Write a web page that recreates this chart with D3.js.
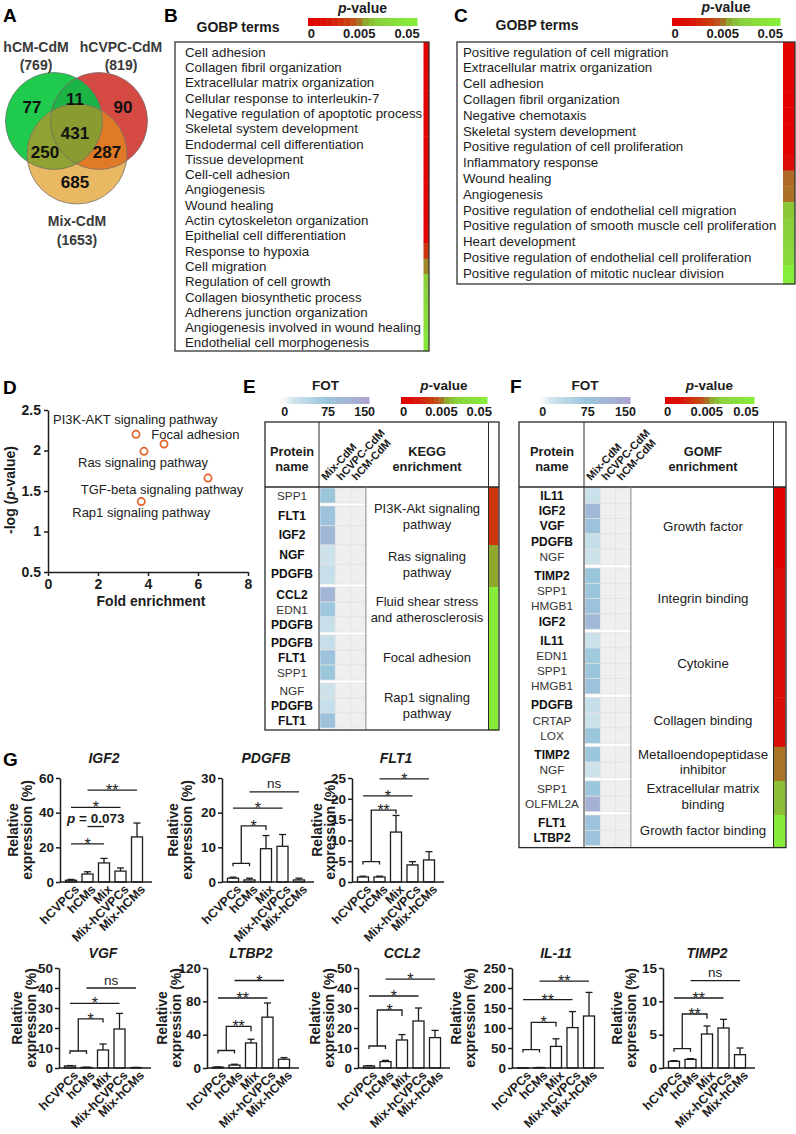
<!DOCTYPE html>
<html><head><meta charset="utf-8">
<script src="https://cdn.jsdelivr.net/npm/d3@7/dist/d3.min.js"></script>
<style>html,body{margin:0;padding:0;background:#fff}svg{display:block}</style>
</head><body>
<svg id="fig" width="796" height="1134" font-family="'Liberation Sans', Arial, Helvetica, sans-serif"></svg>
<script>
// ======================= DATA =======================
// Panel A (Venn)
const vennSetNames = ["hCM-CdM", "hCVPC-CdM", "Mix-CdM"];
const vennSetTotals = [769, 819, 1653];
// CM only, CM∩CVPC, CVPC only, all three, CM∩Mix, CVPC∩Mix, Mix only
const vennRegionCounts = [77, 11, 90, 431, 250, 287, 685];

// Panel B
const gobpTermsB = ["Cell adhesion","Collagen fibril organization","Extracellular matrix organization",
  "Cellular response to interleukin-7","Negative regulation of apoptotic process","Skeletal system development",
  "Endodermal cell differentiation","Tissue development","Cell-cell adhesion","Angiogenesis","Wound healing",
  "Actin cytoskeleton organization","Epithelial cell differentiation","Response to hypoxia","Cell migration",
  "Regulation of cell growth","Collagen biosynthetic process","Adherens junction organization",
  "Angiogenesis involved in wound healing","Endothelial cell morphogenesis"];
const gobpPB = [1e-9,2e-9,5e-9,1e-8,3e-8,8e-8,2e-7,5e-7,1e-6,3e-6,1e-5,4e-5,2e-4,0.0035,0.008,0.022,0.026,0.03,0.036,0.042];

// Panel C
const gobpTermsC = ["Positive regulation of cell migration","Extracellular matrix organization","Cell adhesion",
  "Collagen fibril organization","Negative chemotaxis","Skeletal system development",
  "Positive regulation of cell proliferation","Inflammatory response","Wound healing","Angiogenesis",
  "Positive regulation of endothelial cell migration","Positive regulation of smooth muscle cell proliferation",
  "Heart development","Positive regulation of endothelial cell proliferation","Positive regulation of mitotic nuclear division"];
const gobpPC = [1e-7,2e-7,4e-7,1e-6,3e-6,6e-6,2e-5,0.0012,0.006,0.0065,0.018,0.02,0.024,0.03,0.048];

const pTickLabels = ["0", "0.005", "0.05"];
const fotTicks = [0, 75, 150];

// Panel D
const keggNames = ["PI3K-AKT signaling pathway","Focal adhesion","Ras signaling pathway","TGF-beta signaling pathway","Rap1 signaling pathway"];
const keggFold = [3.52, 4.64, 3.84, 6.4, 3.73];
const keggLogP = [2.2, 2.08, 1.99, 1.66, 1.37];
const dXTicks = [0, 2, 4, 6, 8];
const dYTicks = [0.5, 1, 1.5, 2, 2.5];

// Panel E (KEGG)
const eEnrichLines = [["PI3K-Akt signaling","pathway"],["Ras signaling","pathway"],["Fluid shear stress","and atherosclerosis"],["Focal adhesion"],["Rap1 signaling","pathway"]];
const eGroupP = [0.0035, 0.011, 0.045, 0.045, 0.045];
const eProteins = [["SPP1","FLT1","IGF2"],["NGF","PDGFB"],["CCL2","EDN1","PDGFB"],["PDGFB","FLT1","SPP1"],["NGF","PDGFB","FLT1"]];
const eBold = [[0,1,1],[1,1],[1,0,1],[1,1,0],[0,1,1]];
const eFOT = [[75,82,105],[22,28],[112,72,28],[28,82,75],[22,28,82]];

// Panel F (GOMF)
const fEnrichLines = [["Growth factor"],["Integrin binding"],["Cytokine"],["Collagen binding"],["Metalloendopeptidase","inhibitor"],["Extracellular matrix","binding"],["Growth factor binding"]];
const fGroupP = [0.0001, 0.0012, 0.0013, 0.0015, 0.0068, 0.016, 0.045];
const fProteins = [["IL11","IGF2","VGF","PDGFB","NGF"],["TIMP2","SPP1","HMGB1","IGF2"],["IL11","EDN1","SPP1","HMGB1"],["PDGFB","CRTAP","LOX"],["TIMP2","NGF"],["SPP1","OLFML2A"],["FLT1","LTBP2"]];
const fBold = [[1,1,1,1,0],[1,0,0,1],[1,0,0,0],[1,0,0],[1,0],[0,0],[1,1]];
const fFOT = [[25,105,85,30,22],[75,75,85,105],[25,70,75,85],[30,25,75],[75,22],[75,120],[82,82]];
const tableColNames = ["Mix-CdM","hCVPC-CdM","hCM-CdM"];

// Panel G
const gGroups = ["hCVPCs","hCMs","Mix","Mix-hCVPCs","Mix-hCMs"];
const geneNames = ["IGF2","PDGFB","FLT1","VGF","LTBP2","CCL2","IL-11","TIMP2"];
const igf2Mean = [1.0, 4.6, 11.0, 6.3, 26.0];
const igf2Sem  = [0.5, 1.3, 2.6, 1.8, 8.0];
const pdgfbMean = [1.1, 0.6, 9.6, 10.3, 0.6];
const pdgfbSem  = [0.3, 0.5, 3.8, 3.4, 0.5];
const flt1Mean = [1.2, 1.2, 12.0, 4.1, 5.3];
const flt1Sem  = [0.2, 0.2, 4.0, 0.8, 2.0];
const vgfMean = [1.0, 0.3, 9.0, 19.5, 0.2];
const vgfSem  = [0.2, 0.1, 3.0, 7.8, 0.1];
const ltbp2Mean = [1.0, 3.5, 30.0, 61.0, 10.5];
const ltbp2Sem  = [0.3, 1.0, 4.5, 17.0, 2.0];
const ccl2Mean = [1.0, 3.2, 14.0, 23.5, 15.2];
const ccl2Sem  = [0.2, 0.6, 2.7, 6.5, 3.6];
const il11Mean = [0.4, 1.0, 54, 101, 130];
const il11Sem  = [0.1, 0.3, 19, 40, 59];
const timp2Mean = [1.0, 1.3, 5.1, 6.0, 2.0];
const timp2Sem  = [0.1, 0.1, 1.2, 1.3, 1.0];
const gYMax = [60, 30, 25, 50, 120, 50, 250, 15];
const gYStep = [20, 10, 5, 10, 40, 10, 50, 5];
const igf2Sig = [{a:0,b:2,y:22,s:"*"},{a:1,b:2,y:32,s:"p = 0.073"},{a:0,b:3,y:43,s:"*"},{a:1,b:4,y:53,s:"**"}];
const pdgfbSig = [{a:[0,1],b:2,cap:5.4,y:16.2,drop:15.0,s:"*"},{a:0,b:3,y:21.3,s:"*"},{a:1,b:4,y:26,s:"ns"}];
const flt1Sig = [{a:[0,1],b:2,cap:4.9,y:17.3,drop:16.4,s:"**"},{a:0,b:3,y:20.7,s:"*"},{a:1,b:4,y:24.8,s:"*"}];
const vgfSig = [{a:[0,1],b:2,cap:8.5,y:24.6,drop:22.8,s:"*"},{a:0,b:3,y:32.3,s:"*"},{a:1,b:4,y:40,s:"ns"}];
const ltbp2Sig = [{a:[0,1],b:2,cap:21,y:50,drop:44,s:"**"},{a:0,b:3,y:84,s:"**"},{a:1,b:4,y:105,s:"*"}];
const ccl2Sig = [{a:[0,1],b:2,cap:11,y:29,drop:26,s:"*"},{a:0,b:3,y:36,s:"*"},{a:1,b:4,y:44.4,s:"*"}];
const il11Sig = [{a:[0,1],b:2,cap:46,y:114,drop:104,s:"*"},{a:0,b:3,y:171,s:"**"},{a:1,b:4,y:217,s:"**"}];
const timp2Sig = [{a:[0,1],b:2,cap:2.9,y:8.1,drop:7.4,s:"**"},{a:0,b:3,y:10.5,s:"**"},{a:1,b:4,y:13.1,s:"ns"}];

// ======================= LAYOUT =======================
const letters = [["A",3,22],["B",164,22],["C",454,22],["D",3,394],["E",243,393],["F",510,393],["G",3,766]];
const vennGeom = [[54,121,48.5],[99,121,48.5],[77,154,50]];
const vennLabelPos = [[32,113],[75,105],[123,113],[75,139],[45,158],[107,158],[75,188]];
const vennNamePos = [[36,52,70],[121,52,70],[77,226,245]];
const pTickFrac = [0.03, 0.47, 0.91];
const fotTickFrac = [0.03, 0.53, 0.95];
const dLabelAt = [[0.2,2.385],[4.13,2.2],[1.2,1.85],[1.31,1.52],[0.97,1.24]];

// ======================= DRAW =======================
const svg = d3.select("#fig");
const INK = "#1c1c1c";

function T(g, x, y, s, o = {}) {
  const t = g.append("text").attr("x", x).attr("y", y)
    .attr("font-size", o.fs || 12).attr("font-weight", o.fw || "normal")
    .attr("text-anchor", o.ta || "start").attr("fill", o.fill || INK).text(s);
  if (o.it) t.attr("font-style", "italic");
  if (o.rot != null) t.attr("transform", `rotate(${o.rot},${x},${y})`);
  return t;
}
function pLabel(g, x, y, fs) {
  const t = g.append("text").attr("x", x).attr("y", y).attr("text-anchor", "middle")
    .attr("font-size", fs).attr("font-weight", "bold").attr("fill", INK);
  t.append("tspan").attr("font-style", "italic").text("p");
  t.append("tspan").text("-value");
}
const pColor = d3.scaleLinear()
  .domain([0, 0.002, 0.004, 0.005, 0.007, 0.01, 0.02, 0.05])
  .range(["#e30000","#d8140a","#c9400f","#bb5c26","#a67826","#8fa22e","#8ad03c","#86f03a"]).clamp(true);
const pPos = d3.scaleLinear().domain([0, 0.005, 0.05]).range([0, 0.45, 1]);
const FOT = d3.scaleLinear().domain([0, 20, 75, 150]).range(["#ffffff","#cfe3ec","#9ac6dc","#aba3d0"]).clamp(true);

function pBar(g, x, y, w, h, tickY) {
  const n = 18;
  d3.range(n).forEach(i => {
    g.append("rect").attr("x", x + i * w / n).attr("y", y).attr("width", w / n + 0.5).attr("height", h)
      .attr("fill", pColor(pPos.invert((i + 0.5) / n)));
  });
  pTickLabels.forEach((s, i) => T(g, x + pTickFrac[i] * w, tickY, s, {fs: 13, fw: "bold", ta: "middle"}));
}
function fotBar(g, x, y, w, h, tickY) {
  const n = 40;
  d3.range(n).forEach(i => {
    g.append("rect").attr("x", x + i * w / n).attr("y", y).attr("width", w / n + 0.5).attr("height", h)
      .attr("fill", FOT((i + 0.5) / n * 150));
  });
  fotTicks.forEach((v, i) => T(g, x + fotTickFrac[i] * w, tickY, String(v), {fs: 12.5, fw: "bold", ta: "middle"}));
}
function styleAxis(sel, fs) {
  sel.attr("font-family", null).attr("font-size", fs).attr("font-weight", "bold");
  sel.select(".domain").attr("stroke", INK).attr("stroke-width", 1.5);
  sel.selectAll(".tick line").attr("stroke", INK).attr("stroke-width", 1.5);
  sel.selectAll(".tick text").attr("fill", INK);
}

// letters
letters.forEach(([s, x, y]) => T(svg, x, y, s, {fs: 19, fw: "bold", fill: "#000"}));

// ---------- Panel A ----------
(function () {
  const g = svg.append("g");
  const defs = svg.append("defs");
  vennGeom.forEach((c, i) => defs.append("clipPath").attr("id", "vc" + i)
    .append("circle").attr("cx", c[0]).attr("cy", c[1]).attr("r", c[2]));
  const circ = (par, i) => par.append("circle").attr("cx", vennGeom[i][0]).attr("cy", vennGeom[i][1]).attr("r", vennGeom[i][2]);
  const base = ["#20ca4c", "#d64a44", "#e9b862"];
  [0, 1, 2].forEach(i => circ(g, i).attr("fill", base[i]));
  circ(g, 1).attr("clip-path", "url(#vc0)").attr("fill", "#1db446");
  circ(g, 2).attr("clip-path", "url(#vc0)").attr("fill", "#8fa233");
  circ(g, 2).attr("clip-path", "url(#vc1)").attr("fill", "#e07a26");
  circ(g.append("g").attr("clip-path", "url(#vc0)"), 2).attr("clip-path", "url(#vc1)").attr("fill", "#8a9b32");
  [0, 1, 2].forEach(i => circ(g, i).attr("fill", "none").attr("stroke", "#6a6a6a").attr("stroke-width", 0.7));
  vennRegionCounts.forEach((v, i) => T(g, vennLabelPos[i][0], vennLabelPos[i][1], String(v), {fs: 17, fw: "bold", ta: "middle", fill: "#111"}));
  vennSetNames.forEach((s, i) => {
    T(g, vennNamePos[i][0], vennNamePos[i][1], s, {fs: 14, fw: "bold", ta: "middle", fill: "#3a3a3a"});
    T(g, vennNamePos[i][0], vennNamePos[i][2], `(${vennSetTotals[i]})`, {fs: 14, fw: "bold", ta: "middle", fill: "#3a3a3a"});
  });
})();

// ---------- Panels B, C ----------
function gobpPanel(terms, ps, L) {
  const g = svg.append("g");
  T(g, L.headX, L.headY, "GOBP terms", {fs: 14, fw: "bold", ta: "middle"});
  pLabel(g, L.barX + L.barW / 2, L.pY, 14);
  pBar(g, L.barX, L.barY, L.barW, 8, 38);
  const y = d3.scaleBand().domain(d3.range(terms.length)).range([L.r0, L.r1]);
  const bot = L.boxY + L.boxH;
  terms.forEach((s, i) => {
    const y0 = i === 0 ? L.boxY : y(i);
    const y1 = i === terms.length - 1 ? bot : y(i + 1);
    g.append("rect").attr("x", L.stripX).attr("y", y0).attr("width", L.stripW).attr("height", y1 - y0 + 0.4).attr("fill", pColor(ps[i]));
    T(g, L.textX, y(i) + y.bandwidth() / 2 + 4.6, s, {fs: 13.3});
  });
  g.append("rect").attr("x", L.boxX).attr("y", L.boxY).attr("width", L.boxW).attr("height", L.boxH)
    .attr("fill", "none").attr("stroke", "#333").attr("stroke-width", 1.3);
}
gobpPanel(gobpTermsB, gobpPB, {headX: 238, headY: 32, barX: 308, barY: 18, barW: 109, pY: 13,
  r0: 44.5, r1: 350.5, boxX: 175, boxY: 42, boxW: 254, boxH: 309, stripX: 423.5, stripW: 5.5, textX: 185});
gobpPanel(gobpTermsC, gobpPC, {headX: 537, headY: 30, barX: 672, barY: 18, barW: 108, pY: 12,
  r0: 44.1, r1: 281.1, boxX: 457, boxY: 42, boxW: 338, boxH: 242, stripX: 783, stripW: 12, textX: 463});

// ---------- Panel D ----------
(function () {
  const g = svg.append("g");
  const x = d3.scaleLinear().domain([0, 8]).range([48, 248]);
  const y = d3.scaleLinear().domain([0.5, 2.5]).range([572, 410]);
  const xa = g.append("g").attr("transform", "translate(0,572)")
    .call(d3.axisBottom(x).tickValues(dXTicks).tickSize(4).tickSizeOuter(0).tickPadding(3).tickFormat(d => String(d)));
  styleAxis(xa, 14);
  const ya = g.append("g").attr("transform", "translate(48,0)")
    .call(d3.axisLeft(y).tickValues(dYTicks).tickSize(4).tickSizeOuter(0).tickPadding(3).tickFormat(d => String(d)));
  styleAxis(ya, 14);
  T(g, 151, 606, "Fold enrichment", {fs: 14, fw: "bold", ta: "middle"});
  const yl = g.append("text").attr("transform", "translate(15,490) rotate(-90)").attr("text-anchor", "middle")
    .attr("font-size", 14).attr("font-weight", "bold").attr("fill", INK);
  yl.append("tspan").text("-log (");
  yl.append("tspan").attr("font-style", "italic").text("p");
  yl.append("tspan").text("-value)");
  keggNames.forEach((s, i) => {
    T(g, x(dLabelAt[i][0]), y(dLabelAt[i][1]) + 4.5, s, {fs: 13, fill: "#222"});
    g.append("circle").attr("cx", x(keggFold[i])).attr("cy", y(keggLogP[i])).attr("r", 3.6)
      .attr("fill", "#fff").attr("stroke", "#e2622c").attr("stroke-width", 1.7);
  });
})();

// ---------- Panels E, F ----------
function enrichTable(D, L) {
  const g = svg.append("g");
  T(g, L.fotX + L.fotW / 2, 390, "FOT", {fs: 13.5, fw: "bold", ta: "middle"});
  fotBar(g, L.fotX, 397, L.fotW, 7, 416);
  pLabel(g, L.pX + L.pW / 2, 390, 13.5);
  pBar(g, L.pX, 397, L.pW, 7, 416);
  const rows = [], spans = [];
  let yy = L.headY + 1, r = 0;
  D.proteins.forEach((grp, gi) => {
    const s0 = yy;
    grp.forEach((name, k) => {
      const h = (L.rowH && L.rowH[r]) || L.rowH0;
      rows.push({name, bold: D.bold[gi][k], fot: D.fot[gi][k], y: yy, h});
      yy += h;
      if (L.gapAfter.includes(r)) yy += L.gap;
      r++;
    });
    spans.push([s0, rows[rows.length - 1].y + rows[rows.length - 1].h]);
  });
  const bottom = yy + 2;
  spans.forEach((sp, gi) => {
    const y0 = gi === 0 ? L.headY : sp[0];
    const y1 = gi === spans.length - 1 ? bottom : spans[gi + 1][0];
    g.append("rect").attr("x", L.stripX).attr("y", y0).attr("width", L.stripW).attr("height", y1 - y0 + 0.4)
      .attr("fill", pColor(D.p[gi]));
  });
  rows.forEach(rw => {
    [0, 1, 2].forEach(c => {
      g.append("rect").attr("x", L.heatX + c * L.heatW).attr("y", rw.y).attr("width", L.heatW).attr("height", rw.h)
        .attr("fill", c === 0 ? FOT(rw.fot) : "#efefef").attr("stroke", "#e2e2e2").attr("stroke-width", 0.7);
    });
    T(g, L.protC, rw.y + rw.h / 2 + 4.2, rw.name, {fs: rw.bold ? 12 : 11.8, fw: rw.bold ? "bold" : "normal", ta: "middle", fill: rw.bold ? "#111" : "#333"});
  });
  spans.forEach((sp, gi) => {
    const lines = D.lines[gi], c = (sp[0] + sp[1]) / 2;
    lines.forEach((s, k) => T(g, L.enrC, c + (k - (lines.length - 1) / 2) * 15.5 + 4.6, s, {fs: L.efs, ta: "middle", fill: "#222"}));
  });
  T(g, L.protC, 456, "Protein", {fs: 12.8, fw: "bold", ta: "middle"});
  T(g, L.protC, 471, "name", {fs: 12.8, fw: "bold", ta: "middle"});
  T(g, L.enrC, 456, D.head[0], {fs: 12.8, fw: "bold", ta: "middle"});
  T(g, L.enrC, 471, D.head[1], {fs: 12.8, fw: "bold", ta: "middle"});
  tableColNames.forEach((s, c) => T(g, L.heatX + c * L.heatW + 6, L.headY - 6, s, {fs: 11, fw: "bold", rot: -47}));
  const ln = (x1, y1, x2, y2, col, w) => g.append("line").attr("x1", x1).attr("y1", y1).attr("x2", x2).attr("y2", y2).attr("stroke", col).attr("stroke-width", w);
  ln(L.boxL, L.headY, L.boxR, L.headY, "#2a2a2a", 1.3);
  ln(L.protX, L.boxT, L.protX, bottom, "#2a2a2a", 1);
  ln(L.heatX + 3 * L.heatW, L.headY, L.heatX + 3 * L.heatW, bottom, "#8a8a8a", 1);
  ln(L.stripX - 0.5, L.boxT, L.stripX - 0.5, bottom, "#2a2a2a", 1);
  g.append("rect").attr("x", L.boxL).attr("y", L.boxT).attr("width", L.boxR - L.boxL).attr("height", bottom - L.boxT)
    .attr("fill", "none").attr("stroke", "#2a2a2a").attr("stroke-width", 1.3);
}
enrichTable({proteins: eProteins, bold: eBold, fot: eFOT, p: eGroupP, lines: eEnrichLines, head: ["KEGG", "enrichment"]},
  {fotX: 282, fotW: 87, pX: 401, pW: 86, boxL: 265, boxR: 499, boxT: 422, headY: 487, protX: 319, protC: 292,
   heatX: 320, heatW: 15.3, stripX: 489, stripW: 9.5, enrC: 427, efs: 13,
   rowH: [15, 19.5, 19.5, 19.5, 19.5, 15, 15, 15, 15, 15, 15, 15, 15, 15], rowH0: 15, gapAfter: [0, 4, 7, 10], gap: 3});
(function () {
  let acc = 0; const ga = [];
  fProteins.forEach((grp, i) => { acc += grp.length; if (i < fProteins.length - 1) ga.push(acc - 1); });
  enrichTable({proteins: fProteins, bold: fBold, fot: fFOT, p: fGroupP, lines: fEnrichLines, head: ["GOMF", "enrichment"]},
    {fotX: 540, fotW: 90, pX: 665, pW: 89, boxL: 519, boxR: 786, boxT: 422, headY: 487, protX: 584, protC: 552,
     heatX: 585, heatW: 15.3, stripX: 774, stripW: 11.5, enrC: 703, efs: 13.3,
     rowH0: 15.3, gapAfter: ga, gap: 3.5});
})();

// ---------- Panel G ----------
const barPlots = [
  {title: geneNames[0], mean: igf2Mean, sem: igf2Sem, sig: igf2Sig},
  {title: geneNames[1], mean: pdgfbMean, sem: pdgfbSem, sig: pdgfbSig},
  {title: geneNames[2], mean: flt1Mean, sem: flt1Sem, sig: flt1Sig},
  {title: geneNames[3], mean: vgfMean, sem: vgfSem, sig: vgfSig},
  {title: geneNames[4], mean: ltbp2Mean, sem: ltbp2Sem, sig: ltbp2Sig},
  {title: geneNames[5], mean: ccl2Mean, sem: ccl2Sem, sig: ccl2Sig},
  {title: geneNames[6], mean: il11Mean, sem: il11Sem, sig: il11Sig},
  {title: geneNames[7], mean: timp2Mean, sem: timp2Sem, sig: timp2Sig}
];
const barLayout = [
  {ax: 60, row: 0, o1: 42, o2: 28}, {ax: 222, row: 0, o1: 44, o2: 30}, {ax: 352, row: 0, o1: 30, o2: 17},
  {ax: 59, row: 1, o1: 37, o2: 23}, {ax: 207, row: 1, o1: 40, o2: 26}, {ax: 358, row: 1, o1: 38, o2: 24},
  {ax: 512, row: 1, o1: 51, o2: 37}, {ax: 663, row: 1, o1: 41, o2: 27}
];
const rowLayout = [{titleY: 763, top: 778, zero: 882}, {titleY: 958, top: 968, zero: 1068}];

function sigLabel(g, s, x, yy) {
  if (s === "ns") T(g, x, yy - 3.5, "ns", {fs: 13.5, ta: "middle"});
  else if (s[0] === "p") {
    const t = g.append("text").attr("x", x).attr("y", yy - 4).attr("text-anchor", "middle")
      .attr("font-size", 13.5).attr("font-weight", "bold").attr("fill", INK);
    t.append("tspan").attr("font-style", "italic").text("p");
    t.append("tspan").text(s.slice(1));
  } else T(g, x, yy + 6, s, {fs: 16, ta: "middle"});
}

barPlots.forEach((P, pi) => {
  const Lb = barLayout[pi], R = rowLayout[Lb.row];
  const g = svg.append("g");
  const yMax = gYMax[pi], step = gYStep[pi];
  const y = d3.scaleLinear().domain([0, yMax]).range([R.zero, R.top]);
  const x = d3.scaleBand().domain(gGroups).range([Lb.ax, Lb.ax + 88]).paddingInner(0.333).paddingOuter(0.333);
  const cx = i => x(gGroups[i]) + x.bandwidth() / 2;
  g.selectAll("rect.bar").data(P.mean).join("rect").attr("class", "bar")
    .attr("x", (d, i) => x(gGroups[i])).attr("y", d => y(d)).attr("width", x.bandwidth())
    .attr("height", d => R.zero - y(d)).attr("fill", "#fff").attr("stroke", INK).attr("stroke-width", 1.3);
  P.mean.forEach((m, i) => {
    const s = P.sem[i], c = cx(i);
    g.append("line").attr("x1", c).attr("x2", c).attr("y1", y(m)).attr("y2", y(m + s)).attr("stroke", INK).attr("stroke-width", 1.3);
    g.append("line").attr("x1", c - 3.5).attr("x2", c + 3.5).attr("y1", y(m + s)).attr("y2", y(m + s)).attr("stroke", INK).attr("stroke-width", 1.3);
  });
  const ya = g.append("g").attr("transform", `translate(${Lb.ax},0)`)
    .call(d3.axisLeft(y).tickValues(d3.range(0, yMax + step / 2, step)).tickSize(4).tickSizeOuter(0).tickPadding(2).tickFormat(d => String(d)));
  styleAxis(ya, 13.5);
  g.append("line").attr("x1", Lb.ax).attr("x2", Lb.ax + 92).attr("y1", R.zero).attr("y2", R.zero).attr("stroke", INK).attr("stroke-width", 1.5);
  gGroups.forEach((s, i) => T(g, cx(i) + 9, R.zero + 8, s, {fs: 12.5, fw: "bold", ta: "end", rot: -45}));
  T(g, Lb.ax + 44, R.titleY, P.title, {fs: 14, fw: "bold", it: true, ta: "middle"});
  const mid = (R.top + R.zero) / 2;
  T(g, Lb.ax - Lb.o1, mid, "Relative", {fs: 14, fw: "bold", ta: "middle", rot: -90});
  T(g, Lb.ax - Lb.o2, mid, "expression (%)", {fs: 14, fw: "bold", ta: "middle", rot: -90});
  P.sig.forEach(a => {
    if (Array.isArray(a.a)) {
      const c0 = cx(a.a[0]), c1 = cx(a.a[1]), m = (c0 + c1) / 2, xb = cx(a.b);
      const yc = y(a.cap), yt = y(a.y), yd = y(a.drop);
      g.append("path").attr("d", `M${c0},${yc + 3}V${yc}H${c1}V${yc + 3}M${m},${yc}V${yt}H${xb}V${yd}`)
        .attr("fill", "none").attr("stroke", INK).attr("stroke-width", 1.3);
      sigLabel(g, a.s, (m + xb) / 2, yt);
    } else {
      const x1 = cx(a.a), x2 = cx(a.b), yy = y(a.y);
      g.append("line").attr("x1", x1).attr("x2", x2).attr("y1", yy).attr("y2", yy).attr("stroke", INK).attr("stroke-width", 1.3);
      sigLabel(g, a.s, (x1 + x2) / 2, yy);
    }
  });
});
</script>
</body></html>
